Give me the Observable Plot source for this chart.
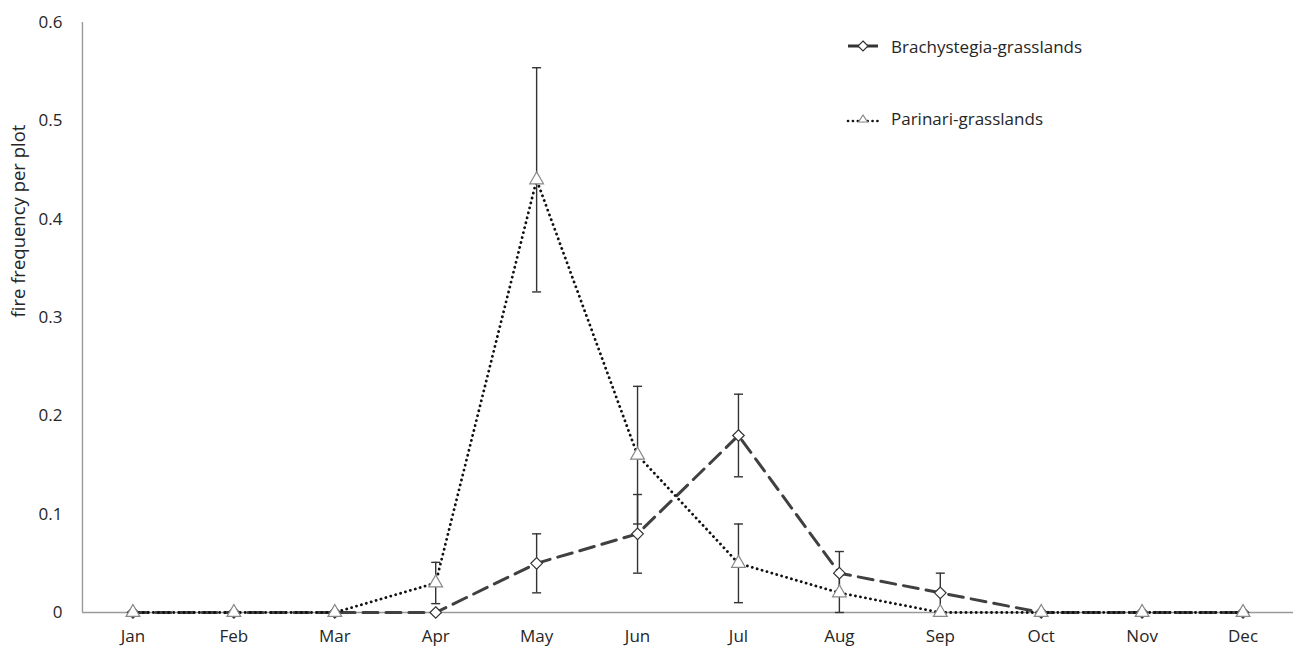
<!DOCTYPE html>
<html>
<head>
<meta charset="utf-8">
<script src="https://cdn.jsdelivr.net/npm/d3@7"></script>
<script src="https://cdn.jsdelivr.net/npm/@observablehq/plot@0.6"></script>
<style>
  html, body { margin: 0; padding: 0; background: #fff; }
  #wrap { position: relative; width: 1293px; height: 646px; font-family: "Open Sans", sans-serif; }
  #legend { position: absolute; left: 846px; top: 33px; font-size: 17px; color: #262626; }
  .item { display: flex; align-items: center; height: 26px; }
  .item svg { margin-right: 11px; }
</style>
</head>
<body>
<div id="wrap">
  <div id="chart"></div>
  <div id="legend"></div>
</div>
<script>
const months = ["Jan","Feb","Mar","Apr","May","Jun","Jul","Aug","Sep","Oct","Nov","Dec"];
const brachyValues = [0, 0, 0, 0, 0.05, 0.08, 0.18, 0.04, 0.02, 0, 0, 0];
const brachyErr    = [null, null, null, null, 0.03, 0.04, 0.042, 0.022, 0.02, null, null, null];
const parinariValues = [0, 0, 0, 0.03, 0.44, 0.16, 0.05, 0.02, 0, 0, 0, 0];
const parinariErr    = [null, null, null, 0.021, 0.114, 0.07, 0.04, 0.02, null, null, null, null];
const yTicks = [0, 0.1, 0.2, 0.3, 0.4, 0.5, 0.6];
const seriesNames = ["Brachystegia-grasslands", "Parinari-grasslands"];

const brachy = months.map((m, i) => ({month: m, value: brachyValues[i], err: brachyErr[i]}));
const parinari = months.map((m, i) => ({month: m, value: parinariValues[i], err: parinariErr[i]}));
const errs = [...brachy, ...parinari].filter(d => d.err != null)
  .map(d => ({month: d.month, lo: Math.max(0, d.value - d.err), hi: d.value + d.err}));

const capSymbol = {draw(context) { context.moveTo(-4.5, 0); context.lineTo(4.5, 0); }};

const chart = Plot.plot({
  width: 1293,
  height: 646,
  marginLeft: 82,
  marginRight: 0,
  marginTop: 22,
  marginBottom: 34,
  style: {fontFamily: "'Open Sans', sans-serif", fontSize: "17px", color: "#262626", background: "#fff"},
  x: {type: "point", domain: months, padding: 0.5, round: false},
  y: {domain: [0, 0.6]},
  marks: [
    Plot.axisY({ticks: yTicks, tickSize: 0, tickPadding: 20, label: null,
      tickFormat: d => d === 0 ? "0" : d3.format(".1f")(d), fontSize: 17}),
    Plot.axisX({tickSize: 0, tickPadding: 17, label: null, fontSize: 17}),
    Plot.ruleX([months[0]], {dx: -50.5, y1: 0, y2: 0.6, stroke: "#9a9a9a", strokeWidth: 1.4}),
    Plot.ruleY([0], {stroke: "#9a9a9a", strokeWidth: 1.4}),
    Plot.text(["fire frequency per plot"], {frameAnchor: "left", rotate: -90, dx: -63,
      fontSize: 18.5, fill: "#262626"}),
    Plot.line(brachy, {x: "month", y: "value", stroke: "#404040", strokeWidth: 3, strokeDasharray: "15,8"}),
    Plot.line(parinari, {x: "month", y: "value", stroke: "#111", strokeWidth: 2.8, strokeLinecap: "round", strokeDasharray: "0.1,5"}),
    Plot.ruleX(errs, {x: "month", y1: "lo", y2: "hi", stroke: "#333", strokeWidth: 1.4}),
    Plot.dot(errs, {x: "month", y: "hi", symbol: capSymbol, stroke: "#333", strokeWidth: 1.4}),
    Plot.dot(errs, {x: "month", y: "lo", symbol: capSymbol, stroke: "#333", strokeWidth: 1.4}),
    Plot.dot(brachy, {x: "month", y: "value", symbol: "diamond2", r: 5.2, fill: "white", stroke: "#333", strokeWidth: 1.2}),
    Plot.dot(parinari, {x: "month", y: "value", symbol: "triangle", r: 5.1, fill: "white", stroke: "#888", strokeWidth: 1.2})
  ]
});
document.getElementById("chart").appendChild(chart);

// Legend
const legend = document.getElementById("legend");
const samples = [
  `<svg width="34" height="16"><line x1="2" y1="8" x2="32" y2="8" stroke="#333" stroke-width="3"/><path d="M17 3 L22 8 L17 13 L12 8 Z" fill="white" stroke="#333" stroke-width="1.2"/></svg>`,
  `<svg width="34" height="16"><line x1="2" y1="11" x2="32" y2="11" stroke="#111" stroke-width="2.6" stroke-linecap="round" stroke-dasharray="0.1,4.8"/><path d="M17 5 L21.5 12 L12.5 12 Z" fill="white" stroke="#888" stroke-width="1.2"/></svg>`
];
seriesNames.forEach((name, i) => {
  const div = document.createElement("div");
  div.className = "item";
  if (i === 1) div.style.marginTop = "46px";
  div.innerHTML = samples[i] + `<span>${name}</span>`;
  legend.appendChild(div);
});
</script>
</body>
</html>
